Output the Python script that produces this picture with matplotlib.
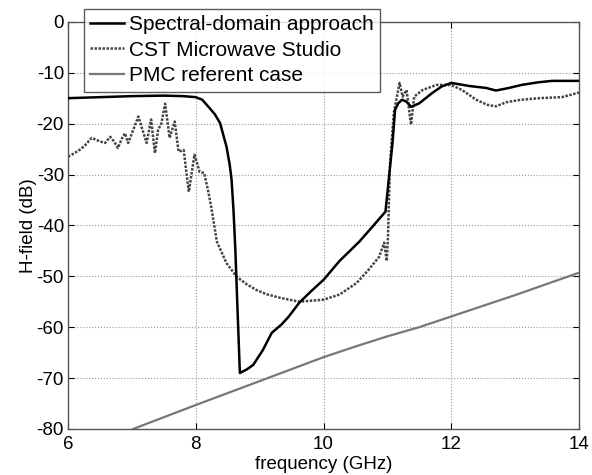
import numpy as np
import matplotlib.pyplot as plt

plt.rcParams['font.family'] = ['Liberation Sans', 'DejaVu Sans']
plt.rcParams['axes.unicode_minus'] = False

# Spectral-domain approach
f_sd = [6.0, 6.5, 7.0, 7.5, 7.8, 8.0, 8.1, 8.22, 8.3, 8.38, 8.48, 8.53, 8.56, 8.59, 8.62, 8.64,
        8.69, 8.8, 8.9, 9.05, 9.19, 9.34, 9.45, 9.62, 9.8, 10.0, 10.25, 10.56, 10.77, 10.97,
        11.08, 11.12, 11.17, 11.23, 11.3, 11.37, 11.5, 11.7, 11.85, 12.0, 12.28, 12.55, 12.7,
        12.9, 13.1, 13.35, 13.58, 14.0]
h_sd = [-15.0, -14.8, -14.6, -14.5, -14.6, -14.8, -15.3, -17.0, -18.2, -19.9, -24.5, -28.0,
        -31.0, -37.0, -45.0, -52.0, -69.0, -68.3, -67.4, -64.5, -61.1, -59.5, -58.0, -55.2,
        -53.0, -50.7, -47.0, -43.2, -40.2, -37.3, -23.8, -17.3, -16.0, -15.3, -15.7, -16.7,
        -16.0, -14.0, -12.7, -12.0, -12.6, -13.0, -13.5, -13.0, -12.4, -11.9, -11.6, -11.6]

# CST Microwave Studio
f_cst = [6.0, 6.1, 6.2, 6.27, 6.37, 6.5, 6.58, 6.66, 6.72, 6.78, 6.84, 6.89, 6.94, 7.0, 7.1,
         7.23, 7.3, 7.36, 7.41, 7.46, 7.52, 7.59, 7.67, 7.73, 7.81, 7.89, 7.98, 8.06, 8.13, 8.19,
         8.25, 8.33, 8.48, 8.64, 8.8, 8.95, 9.1, 9.31, 9.62, 10.0, 10.25, 10.52, 10.7, 10.87,
         10.95, 10.99, 11.01, 11.04, 11.1, 11.19, 11.24, 11.3, 11.37, 11.42, 11.55, 11.77,
         12.0, 12.17, 12.39, 12.56, 12.7, 12.86, 13.1, 13.38, 13.73, 14.0]
h_cst = [-26.5, -25.8, -25.0, -24.2, -22.8, -23.5, -23.8, -22.6, -23.5, -24.8, -23.0, -21.9,
         -23.8, -21.9, -18.6, -23.8, -19.2, -25.8, -21.2, -20.0, -16.1, -22.8, -19.6, -25.5,
         -25.2, -33.4, -26.1, -29.5, -29.7, -33.0, -37.0, -43.2, -47.4, -50.1, -51.6, -52.7,
         -53.5, -54.2, -55.0, -54.6, -53.6, -51.3, -48.8, -46.2, -43.4, -47.0, -42.0, -28.0,
         -17.9, -12.0, -14.7, -13.4, -20.2, -14.7, -13.4, -12.4, -12.4, -13.4, -15.3, -16.3,
         -16.6, -15.8, -15.3, -15.0, -14.8, -13.9]

# PMC referent case
f_pmc = [7.02, 8.0, 9.0, 10.0, 10.5, 11.0, 11.5, 12.0, 13.0, 14.0]
h_pmc = [-80.0, -75.3, -70.6, -65.9, -63.8, -61.8, -60.0, -57.9, -53.7, -49.3]

fig = plt.figure(figsize=(5.92, 4.75), dpi=100)
ax = fig.add_axes([0.115, 0.097, 0.863, 0.857])

ax.plot(f_sd, h_sd, color='black', lw=1.8, label='Spectral-domain approach', zorder=3)
ax.plot(f_cst, h_cst, color='#444444', lw=1.8, ls=(0, (1, 0.6)), label='CST Microwave Studio', zorder=2)
ax.plot(f_pmc, h_pmc, color='#777777', lw=1.6, label='PMC referent case', zorder=2)

ax.set_xlim(6, 14)
ax.set_ylim(-80, 0)
ax.set_xticks([6, 8, 10, 12, 14])
ax.set_yticks(np.arange(-80, 1, 10))
ax.grid(True, color='#999999', ls=':', lw=0.8)
ax.tick_params(direction='in', labelsize=13.5, top=True, right=True, length=4)
ax.tick_params(axis='x', pad=5)
ax.tick_params(axis='y', pad=3)
for s in ax.spines.values():
    s.set_color('#555555')
    s.set_linewidth(1.0)

ax.set_xlabel('frequency (GHz)', fontsize=13.5, labelpad=2)
ax.set_ylabel('H-field (dB)', fontsize=13.5, labelpad=0)

leg = ax.legend(loc='upper left', bbox_to_anchor=(0.031, 1.032), fontsize=15, frameon=True,
                fancybox=False, handlelength=1.6, handletextpad=0.25, borderpad=0.3,
                labelspacing=0.32, borderaxespad=0)
leg.get_frame().set_edgecolor('#333333')
leg.get_frame().set_linewidth(1.0)
leg.set_zorder(5)

fig.savefig('out.png', dpi=100)
